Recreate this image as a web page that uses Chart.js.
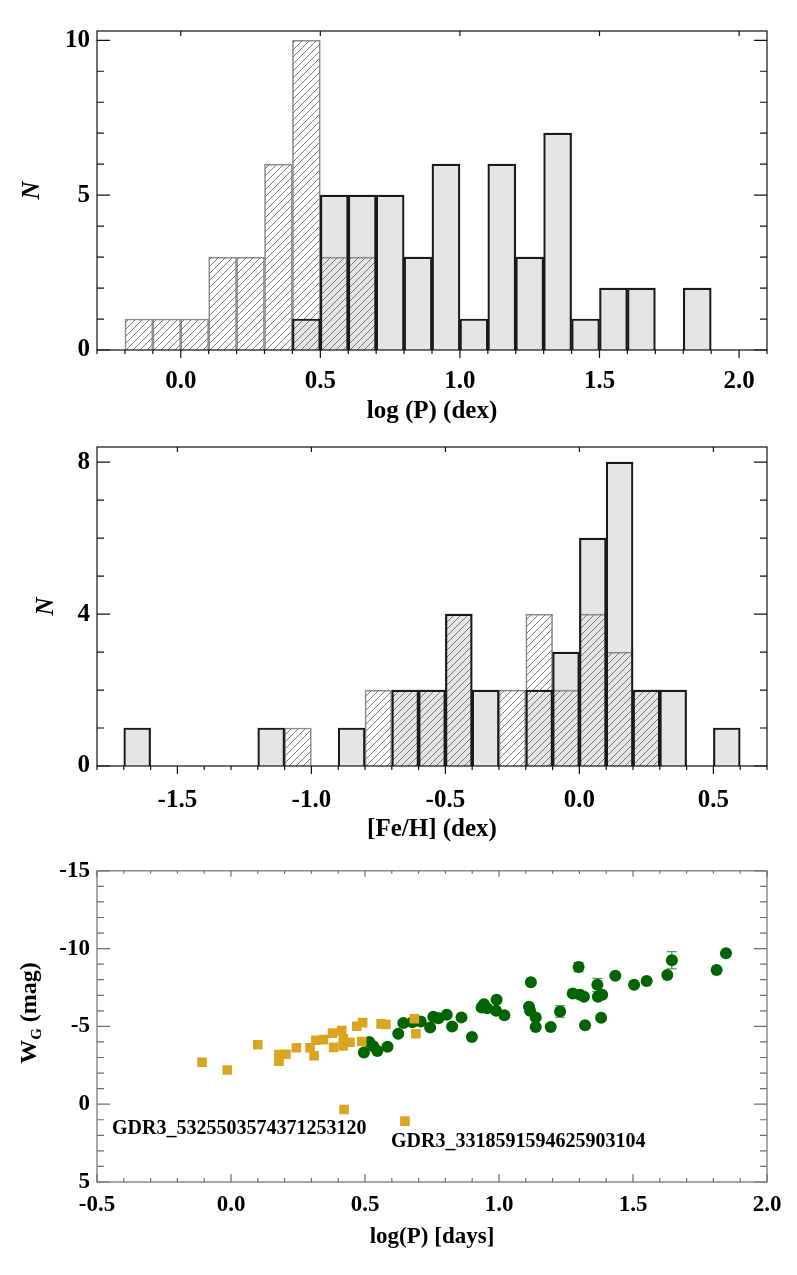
<html>
<head>
<script src="https://cdn.jsdelivr.net/npm/chart.js"></script>
<style>
  body { margin: 0; background: #fff; }
  canvas { position: absolute; left: 0; }
</style>
</head>
<body>
<canvas id="c1" width="797" height="425" style="top:0px"></canvas>
<canvas id="c2" width="797" height="425" style="top:425px"></canvas>
<canvas id="c3" width="797" height="425" style="top:850px"></canvas>

<script>
"use strict";

// ---- panel 1: log P histogram (bin centres, width 0.1)
const pCenters = [-0.15, -0.05, 0.05, 0.15, 0.25, 0.35, 0.45, 0.55, 0.65, 0.75, 0.85,
                  0.95, 1.05, 1.15, 1.25, 1.35, 1.45, 1.55, 1.65, 1.75, 1.85];
const pAll = [0, 0, 0, 0, 0, 0, 1, 5, 5, 5, 3, 6, 1, 6, 3, 7, 1, 2, 2, 0, 2];
const pSub = [1, 1, 1, 3, 3, 6, 10, 3, 3, 0, 0, 0, 0, 0, 0, 0, 0, 0, 0, 0, 0];
const pTicksX = [0.0, 0.5, 1.0, 1.5, 2.0];
const pTicksY = [0, 5, 10];

// ---- panel 2: [Fe/H] histogram
const fCenters = [-1.65, -1.55, -1.45, -1.35, -1.25, -1.15, -1.05, -0.95, -0.85, -0.75, -0.65, -0.55,
                  -0.45, -0.35, -0.25, -0.15, -0.05, 0.05, 0.15, 0.25, 0.35, 0.45, 0.55];
const fAll = [1, 0, 0, 0, 0, 1, 0, 0, 1, 0, 2, 2, 4, 2, 0, 2, 3, 6, 8, 2, 2, 0, 1];
const fSub = [0, 0, 0, 0, 0, 0, 1, 0, 0, 2, 2, 2, 4, 0, 2, 4, 2, 4, 3, 2, 0, 0, 0];
const fTicksX = [-1.5, -1.0, -0.5, 0.0, 0.5];
const fTicksY = [0, 4, 8];

// ---- panel 3: W_G vs log P
const sqLogP = [-0.108, -0.014, 0.100, 0.179, 0.179, 0.205, 0.244, 0.295, 0.310, 0.317, 0.345, 0.379, 0.383,
                0.413, 0.419, 0.419, 0.444, 0.422, 0.469, 0.491, 0.488, 0.560, 0.578, 0.649, 0.684, 0.690];
const sqW = [-2.70, -2.20, -3.82, -3.19, -2.77, -3.21, -3.63, -3.63, -3.11, -4.11, -4.15, -4.57, -3.65,
             -4.74, -4.21, -3.74, -3.98, 0.34, -5.01, -5.24, -4.03, -5.16, -5.12, 1.09, -5.49, -4.53];
const cirLogP = [0.496, 0.516, 0.531, 0.546, 0.584, 0.624, 0.643, 0.677, 0.708, 0.743, 0.755, 0.774, 0.805,
                 0.825, 0.860, 0.899, 0.935, 0.944, 0.956, 0.991, 0.989, 1.020, 1.119, 1.112, 1.116, 1.137,
                 1.137, 1.193, 1.228, 1.275, 1.297, 1.302, 1.317, 1.321, 1.367, 1.369, 1.385, 1.381, 1.434,
                 1.504, 1.551, 1.628, 1.645, 1.812, 1.847];
const cirW = [-3.33, -4.00, -3.73, -3.42, -3.69, -4.53, -5.22, -5.26, -5.31, -4.93, -5.62, -5.53, -5.75,
              -4.99, -5.58, -4.32, -6.21, -6.42, -6.16, -6.71, -6.00, -5.72, -7.84, -6.27, -6.00, -5.58,
              -4.96, -4.96, -5.96, -7.11, -8.81, -7.04, -6.90, -5.08, -7.67, -6.90, -7.04, -5.56, -8.26,
              -7.67, -7.92, -8.30, -9.25, -8.62, -9.70];
const errLogP = [1.228, 1.297, 1.367, 1.645];
const errW = [-5.96, -8.81, -7.67, -9.25];
const errSize = [0.37, 0.30, 0.42, 0.55];
const noteText = ['GDR3_5325503574371253120', 'GDR3_3318591594625903104'];
const noteLogP = [-0.444, 0.597];
const noteW = [1.57, 2.45];
const sTicksX = [-0.5, 0.0, 0.5, 1.0, 1.5, 2.0];
const sTicksY = [-15, -10, -5, 0, 5];

const serif = "'Liberation Serif', 'Times New Roman', serif";
Chart.defaults.font.family = serif;
Chart.defaults.color = '#000';
Chart.defaults.animation = false;
Chart.defaults.plugins.legend.display = false;
Chart.defaults.plugins.tooltip.enabled = false;

function steps(a, b, s) {
    const out = [];
    for (let i = 0; a + i * s <= b + 1e-9; i++) out.push(+(a + i * s).toFixed(3));
    return out;
}

// frame round the plot area plus IDL style tick marks (len > 0 points inward)
const framePlugin = {
    id: 'frame',
    afterDatasetsDraw(chart, args, opts) {
        const { ctx, chartArea: a, scales } = chart;
        ctx.save();
        ctx.strokeStyle = opts.color;
        ctx.lineWidth = opts.width;
        ctx.beginPath();
        for (const t of opts.ticks) {
            const horiz = t.side == 'top' || t.side == 'bottom';
            const sc = horiz ? scales.x : scales.y;
            for (const v of t.values) {
                const p = sc.getPixelForValue(v);
                if (t.side == 'bottom') { ctx.moveTo(p, a.bottom); ctx.lineTo(p, a.bottom - t.len); }
                if (t.side == 'top') { ctx.moveTo(p, a.top); ctx.lineTo(p, a.top + t.len); }
                if (t.side == 'left') { ctx.moveTo(a.left, p); ctx.lineTo(a.left + t.len, p); }
                if (t.side == 'right') { ctx.moveTo(a.right, p); ctx.lineTo(a.right - t.len, p); }
            }
        }
        ctx.stroke();
        ctx.strokeRect(a.left, a.top, a.right - a.left, a.bottom - a.top);
        ctx.restore();
    }
};

function makeHatch() {
    const c = document.createElement('canvas');
    c.width = 7; c.height = 7;
    const g = c.getContext('2d');
    g.strokeStyle = '#5a5a5a';
    g.lineWidth = 0.8;
    g.beginPath();
    g.moveTo(-1, 8); g.lineTo(8, -1);
    g.moveTo(-1, 1); g.lineTo(1, -1);
    g.moveTo(6, 8); g.lineTo(8, 6);
    g.stroke();
    return c.getContext('2d').createPattern(c, 'repeat');
}
const hatch = makeHatch();

function pts(xs, ys) {
    return xs.map((x, i) => ({ x: x, y: ys[i] })).filter(d => d.y > 0);
}

function histChart(id, c) {
    const bold = { size: 25, weight: 'bold' };
    const minorX = steps(c.xMin, c.xMax, 0.1).filter(v => !c.ticksX.includes(v));
    const minorY = steps(0, Math.floor(c.yMax), 1).filter(v => !c.ticksY.includes(v));
    return new Chart(document.getElementById(id), {
        type: 'bar',
        data: {
            datasets: [
                { data: pts(c.centers, c.all), backgroundColor: 'rgba(0,0,0,0)', borderColor: '#1a1a1a', borderWidth: 1.5 },
                { data: pts(c.centers, c.sub), backgroundColor: hatch, borderColor: '#8e8e8e', borderWidth: 1 },
                { data: pts(c.centers, c.all), backgroundColor: '#e5e5e5', borderWidth: 0 }
            ]
        },
        options: {
            responsive: false,
            datasets: { bar: { barPercentage: 1, categoryPercentage: 1, grouped: false } },
            layout: { padding: { left: 0, right: 30, top: c.top, bottom: 0 } },
            scales: {
                x: {
                    type: 'linear', min: c.xMin, max: c.xMax, offset: false,
                    grid: { display: false, drawTicks: false, offset: false }, border: { display: false },
                    ticks: { font: bold, padding: c.labelPad, maxRotation: 0, autoSkip: false,
                             callback: v => v.toFixed(1) },
                    afterBuildTicks: s => { s.ticks = c.ticksX.map(v => ({ value: v })); },
                    afterFit: s => { s.height = 425 - c.bottom; },
                    title: { display: true, text: c.xTitle, font: bold, padding: { top: 0, bottom: c.titlePad } }
                },
                y: {
                    min: 0, max: c.yMax,
                    grid: { display: false, drawTicks: false }, border: { display: false },
                    ticks: { font: bold, padding: 7, callback: v => String(v) },
                    afterBuildTicks: s => { s.ticks = c.ticksY.map(v => ({ value: v })); },
                    afterFit: s => { s.width = 97; },
                    title: { display: true, text: 'N', font: { size: 25, weight: 'bold', style: 'italic' },
                             padding: { top: c.nPad, bottom: 0 } }
                }
            },
            plugins: {
                frame: {
                    color: '#111', width: 1.2,
                    ticks: [
                        { side: 'left', values: c.ticksY, len: 13 },
                        { side: 'left', values: minorY, len: 7 },
                        { side: 'right', values: c.ticksY, len: 13 },
                        { side: 'right', values: minorY, len: 7 },
                        { side: 'top', values: c.ticksX, len: 5 },
                        { side: 'bottom', values: c.ticksX, len: -8 },
                        { side: 'bottom', values: minorX, len: -4 }
                    ]
                }
            }
        },
        plugins: [framePlugin]
    });
}

histChart('c1', { centers: pCenters, all: pAll, sub: pSub, xMin: -0.3, xMax: 2.1, yMax: 10.3,
                  ticksX: pTicksX, ticksY: pTicksY, xTitle: 'log (P) (dex)',
                  top: 31, bottom: 350, labelPad: 17, titlePad: -2, nPad: 18 });

histChart('c2', { centers: fCenters, all: fAll, sub: fSub, xMin: -1.8, xMax: 0.7, yMax: 8.4,
                  ticksX: fTicksX, ticksY: fTicksY, xTitle: '[Fe/H] (dex)',
                  top: 22, bottom: 341, labelPad: 20, titlePad: 5, nPad: 32 });

// ---- scatter panel
const notesPlugin = {
    id: 'notes',
    beforeDatasetsDraw(chart) {
        const { ctx, scales: { x, y } } = chart;
        ctx.save();
        ctx.strokeStyle = '#2e8b2e';
        ctx.lineWidth = 1;
        ctx.beginPath();
        errLogP.forEach((p, i) => {
            const px = x.getPixelForValue(p);
            const y1 = y.getPixelForValue(errW[i] - errSize[i]);
            const y2 = y.getPixelForValue(errW[i] + errSize[i]);
            ctx.moveTo(px, y1); ctx.lineTo(px, y2);
            ctx.moveTo(px - 5, y1); ctx.lineTo(px + 5, y1);
            ctx.moveTo(px - 5, y2); ctx.lineTo(px + 5, y2);
        });
        ctx.stroke();
        ctx.restore();
    },
    afterDraw(chart) {
        const { ctx, scales: { x, y } } = chart;
        ctx.save();
        ctx.fillStyle = '#000';
        ctx.font = 'bold 20px ' + serif;
        ctx.textBaseline = 'middle';
        ctx.textAlign = 'left';
        noteText.forEach((t, i) => {
            ctx.fillText(t, x.getPixelForValue(noteLogP[i]), y.getPixelForValue(noteW[i]));
        });
        // y title with subscript
        ctx.translate(28, 163);
        ctx.rotate(-Math.PI / 2);
        ctx.font = 'bold 24px ' + serif;
        const w1 = ctx.measureText('W').width;
        ctx.font = 'bold 15px ' + serif;
        const w2 = ctx.measureText('G').width;
        ctx.font = 'bold 24px ' + serif;
        const w3 = ctx.measureText(' (mag)').width;
        let cx = -(w1 + w2 + w3) / 2;
        ctx.textBaseline = 'alphabetic';
        ctx.fillText('W', cx, 8);
        cx += w1;
        ctx.font = 'bold 15px ' + serif;
        ctx.fillText('G', cx, 13);
        cx += w2;
        ctx.font = 'bold 24px ' + serif;
        ctx.fillText(' (mag)', cx, 8);
        ctx.restore();
    }
};

const sFont = { size: 23, weight: 'bold' };
const sMinorX = steps(-0.5, 2.0, 0.1).filter(v => !sTicksX.includes(v));
const sMinorY = steps(-15, 5, 1).filter(v => !sTicksY.includes(v));

new Chart(document.getElementById('c3'), {
    type: 'scatter',
    data: {
        datasets: [
            { data: sqLogP.map((p, i) => ({ x: p, y: sqW[i] })), pointStyle: 'rect', pointRadius: 6.8,
              backgroundColor: '#daa520', borderColor: '#daa520', borderWidth: 0 },
            { data: cirLogP.map((p, i) => ({ x: p, y: cirW[i] })), pointStyle: 'circle', pointRadius: 6,
              backgroundColor: '#006400', borderColor: '#006400', borderWidth: 0 }
        ]
    },
    options: {
        responsive: false,
        layout: { padding: { left: 0, right: 30, top: 13, bottom: 0 } },
        scales: {
            x: {
                type: 'linear', min: -0.5, max: 2.0,
                grid: { display: false, drawTicks: false }, border: { display: false },
                ticks: { font: sFont, padding: 9, maxRotation: 0, autoSkip: false, callback: v => v.toFixed(1) },
                afterBuildTicks: s => { s.ticks = sTicksX.map(v => ({ value: v })); },
                afterFit: s => { s.height = 425 - 332; },
                title: { display: true, text: 'log(P) [days]', font: sFont, padding: { top: 0, bottom: 24 } }
            },
            y: {
                min: -15, max: 5, reverse: true,
                grid: { display: false, drawTicks: false }, border: { display: false },
                ticks: { font: sFont, padding: 7, callback: v => String(v) },
                afterBuildTicks: s => { s.ticks = sTicksY.map(v => ({ value: v })); },
                afterFit: s => { s.width = 97; }
            }
        },
        plugins: {
            frame: {
                color: '#6e6e6e', width: 1.2,
                ticks: [
                    { side: 'left', values: sTicksY, len: 13 },
                    { side: 'left', values: sMinorY, len: 7 },
                    { side: 'right', values: sTicksY, len: 13 },
                    { side: 'right', values: sMinorY, len: 7 },
                    { side: 'bottom', values: sTicksX, len: 8 },
                    { side: 'bottom', values: sMinorX, len: 4 },
                    { side: 'top', values: sTicksX, len: 6 },
                    { side: 'top', values: sMinorX, len: 3 }
                ]
            }
        }
    },
    plugins: [framePlugin, notesPlugin]
});
</script>
</body>
</html>
